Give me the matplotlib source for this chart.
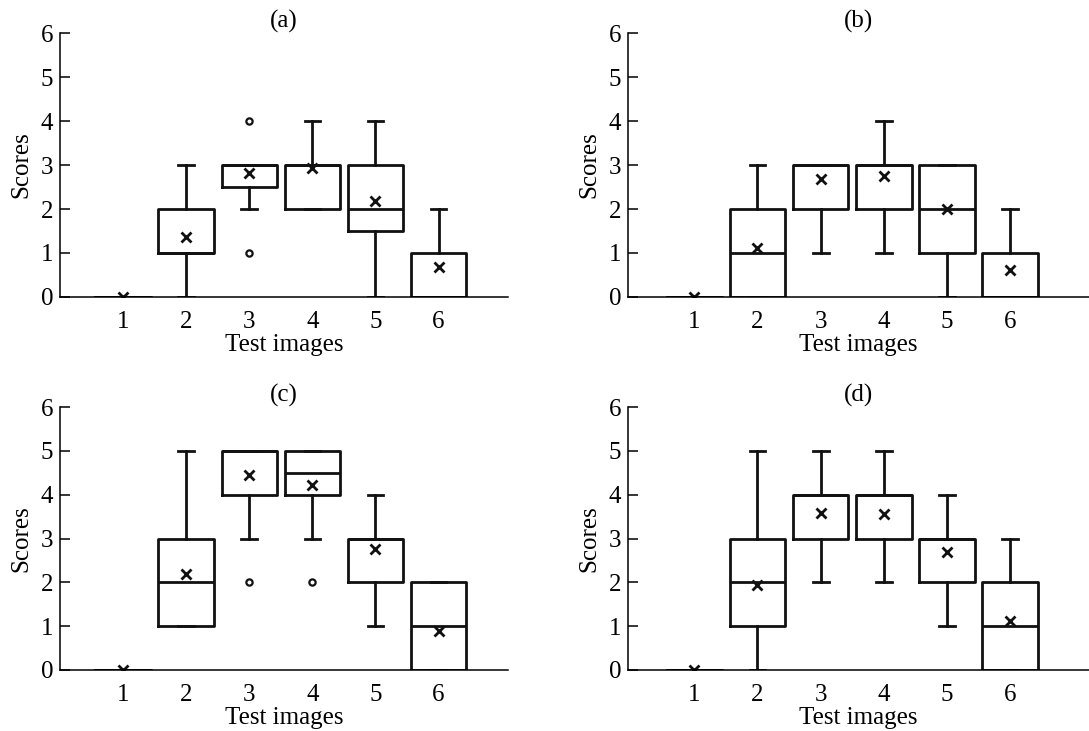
import matplotlib
matplotlib.use("Agg")
import matplotlib.pyplot as plt

plt.rcParams['font.family'] = ['Liberation Serif', 'DejaVu Serif']

images = [1, 2, 3, 4, 5, 6]
yticks = [0, 1, 2, 3, 4, 5, 6]
titles = ["(a)", "(b)", "(c)", "(d)"]

# panel (a)
a_low = [0, 0, 2, 2, 0, 0]
a_q1 = [0, 1, 2.5, 2, 1.5, 0]
a_med = [0, 1, 3, 3, 2, 0]
a_q3 = [0, 2, 3, 3, 3, 1]
a_high = [0, 3, 3, 4, 4, 2]
a_mean = [0.0, 1.36, 2.81, 2.93, 2.18, 0.69]
a_fliers = [[], [], [1, 4], [], [], []]

# panel (b)
b_low = [0, 0, 1, 1, 0, 0]
b_q1 = [0, 0, 2, 2, 1, 0]
b_med = [0, 1, 3, 3, 2, 0]
b_q3 = [0, 2, 3, 3, 3, 1]
b_high = [0, 3, 3, 4, 3, 2]
b_mean = [0.0, 1.11, 2.68, 2.76, 1.99, 0.61]
b_fliers = [[], [], [], [], [], []]

# panel (c)
c_low = [0, 1, 3, 3, 1, 0]
c_q1 = [0, 1, 4, 4, 2, 0]
c_med = [0, 2, 5, 4.5, 3, 1]
c_q3 = [0, 3, 5, 5, 3, 2]
c_high = [0, 5, 5, 5, 4, 2]
c_mean = [0.0, 2.19, 4.45, 4.22, 2.75, 0.90]
c_fliers = [[], [], [2], [2], [], []]

# panel (d)
d_low = [0, 0, 2, 2, 1, 0]
d_q1 = [0, 1, 3, 3, 2, 0]
d_med = [0, 2, 4, 4, 3, 1]
d_q3 = [0, 3, 4, 4, 3, 2]
d_high = [0, 5, 5, 5, 4, 3]
d_mean = [0.0, 1.94, 3.59, 3.57, 2.70, 1.12]
d_fliers = [[], [], [], [], [], []]

panels = [
    (a_low, a_q1, a_med, a_q3, a_high, a_mean, a_fliers),
    (b_low, b_q1, b_med, b_q3, b_high, b_mean, b_fliers),
    (c_low, c_q1, c_med, c_q3, c_high, c_mean, c_fliers),
    (d_low, d_q1, d_med, d_q3, d_high, d_mean, d_fliers),
]

W, H = 1089, 731
fig = plt.figure(figsize=(W / 100, H / 100), dpi=100)

# axes rectangles in pixels: left, bottom(px from top), right, top(px from top)
rects = [
    (60, 297, 508, 33),
    (628, 297, 1089, 33),
    (60, 670, 508, 407),
    (628, 670, 1089, 407),
]
xlims = [(0.0, 7.1), (-0.05, 7.25), (0.0, 7.1), (-0.05, 7.25)]

fs = 18
lw = 2.0
for i, (rect, data) in enumerate(zip(rects, panels)):
    l, b, r, t = rect
    ax = fig.add_axes([l / W, 1 - b / H, (r - l) / W, (b - t) / H])
    low, q1, med, q3, high, mean, fl = data
    stats = []
    for k in range(len(images)):
        stats.append(dict(whislo=low[k], q1=q1[k], med=med[k], q3=q3[k],
                          whishi=high[k], mean=mean[k], fliers=fl[k]))
    ax.bxp(stats, positions=images, widths=0.88, capwidths=0.25,
           showmeans=True, showfliers=True,
           boxprops=dict(color='#111111', linewidth=lw),
           medianprops=dict(color='#111111', linewidth=lw),
           whiskerprops=dict(color='#111111', linewidth=lw),
           capprops=dict(color='#111111', linewidth=lw),
           meanprops=dict(marker='x', markeredgecolor='#111111',
                          markersize=7, markeredgewidth=2),
           flierprops=dict(marker='o', markerfacecolor='white',
                           markeredgecolor='#111111', markersize=4.5,
                           markeredgewidth=1.6))
    ax.set_xlim(*xlims[i])
    ax.set_ylim(0, 6)
    ax.set_yticks(yticks)
    ax.set_xticks(images)
    ax.set_xticklabels([str(v) for v in images])
    ax.spines['top'].set_visible(False)
    ax.spines['right'].set_visible(False)
    ax.spines['left'].set_linewidth(1.1)
    ax.spines['bottom'].set_linewidth(1.1)
    ax.tick_params(axis='y', direction='in', length=7, width=1.1,
                   labelsize=fs, pad=5)
    ax.tick_params(axis='x', length=0, labelsize=fs, pad=10)
    ax.set_xlabel("Test images", fontsize=fs, labelpad=1)
    ax.set_ylabel("Scores", fontsize=fs, labelpad=6)
    ax.set_title(titles[i], fontsize=fs, pad=2)
    ax.patch.set_visible(False)

fig.savefig("out.png", dpi=100)
